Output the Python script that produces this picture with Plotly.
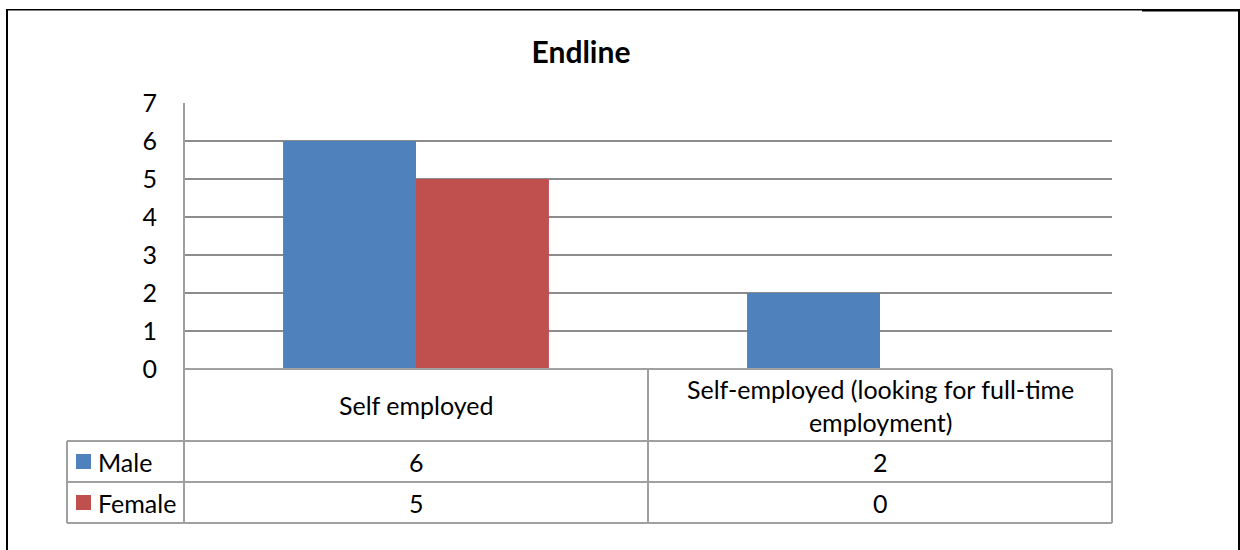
import plotly.graph_objects as go

# Chart data
title_text = "Endline"
categories = ["Self employed", "Self-employed (looking for full-time employment)"]
category_labels = ["Self employed", "Self-employed (looking for full-time<br>employment)"]
series_names = ["Male", "Female"]
male_values = [6, 2]
female_values = [5, 0]
y_tick_values = [0, 1, 2, 3, 4, 5, 6, 7]

series_values = [male_values, female_values]
series_colors = ["#4F81BD", "#C0504D"]

W, H = 1240, 550
FONT = "Lato"
TEXT_SIZE = 25


def fx(x):
    return x / W


def fy(y):
    return 1 - y / H


# Layout in pixels
PLOT_L, PLOT_R, PLOT_T, PLOT_B = 184, 1112, 103, 369
TABLE_L = 67
ROW_EDGES = [369, 441, 482, 523]
COL_SPLIT = 648

fig = go.Figure()
for name, vals, color in zip(series_names, series_values, series_colors):
    fig.add_trace(go.Bar(x=categories, y=vals, name=name, marker=dict(color=color, line=dict(width=0))))

grid_gray = "#8c8c8c"
table_gray = "#a0a0a0"

shapes = []
# data table / axis frame lines
line = dict(color=table_gray, width=2)
for yy in ROW_EDGES:
    x0 = PLOT_L if yy == ROW_EDGES[0] else TABLE_L
    shapes.append(dict(type="line", xref="paper", yref="paper", x0=fx(x0), x1=fx(PLOT_R),
                       y0=fy(yy), y1=fy(yy), line=line))
shapes.append(dict(type="line", xref="paper", yref="paper", x0=fx(PLOT_L), x1=fx(PLOT_L),
                   y0=fy(PLOT_T), y1=fy(ROW_EDGES[-1]), line=line))
shapes.append(dict(type="line", xref="paper", yref="paper", x0=fx(TABLE_L), x1=fx(TABLE_L),
                   y0=fy(ROW_EDGES[1]), y1=fy(ROW_EDGES[-1]), line=line))
for xx in (COL_SPLIT, PLOT_R):
    shapes.append(dict(type="line", xref="paper", yref="paper", x0=fx(xx), x1=fx(xx),
                       y0=fy(ROW_EDGES[0]), y1=fy(ROW_EDGES[-1]), line=line))

# legend keys in the data table
for i, color in enumerate(series_colors):
    yc = (ROW_EDGES[i + 1] + ROW_EDGES[i + 2]) / 2
    shapes.append(dict(type="rect", xref="paper", yref="paper", x0=fx(76), x1=fx(91),
                       y0=fy(yc + 7.5), y1=fy(yc - 7.5), fillcolor=color, line=dict(width=0)))

# outer frame
black = "#000000"
shapes.append(dict(type="line", xref="paper", yref="paper", x0=fx(7), x1=fx(7),
                   y0=fy(9), y1=fy(H), line=dict(color=black, width=2)))
shapes.append(dict(type="line", xref="paper", yref="paper", x0=fx(6), x1=fx(1142),
                   y0=fy(9.8), y1=fy(9.8), line=dict(color=black, width=1.5)))
shapes.append(dict(type="line", xref="paper", yref="paper", x0=fx(1142), x1=fx(W),
                   y0=fy(10.2), y1=fy(10.2), line=dict(color=black, width=2.5)))
shapes.append(dict(type="line", xref="paper", yref="paper", x0=fx(1239), x1=fx(1239),
                   y0=fy(9), y1=fy(H), line=dict(color=black, width=2)))

annotations = []
font = dict(family=FONT, size=TEXT_SIZE, color="#000000")
# category header row
for cat, lab in zip(categories, category_labels):
    annotations.append(dict(x=cat, y=fy((ROW_EDGES[0] + ROW_EDGES[1]) / 2), xref="x", yref="paper",
                            text=lab, showarrow=False, font=font, xanchor="center", yanchor="middle"))
# value rows
for i, (name, vals) in enumerate(zip(series_names, series_values)):
    yc = fy((ROW_EDGES[i + 1] + ROW_EDGES[i + 2]) / 2)
    annotations.append(dict(x=fx(96), y=yc, xref="paper", yref="paper", text=name, showarrow=False,
                            font=font, xanchor="left", yanchor="middle"))
    for cat, v in zip(categories, vals):
        annotations.append(dict(x=cat, y=yc, xref="x", yref="paper", text=str(v), showarrow=False,
                                font=font, xanchor="center", yanchor="middle"))

fig.update_layout(
    width=W, height=H,
    margin=dict(l=0, r=0, t=0, b=0, autoexpand=False),
    paper_bgcolor="white", plot_bgcolor="white",
    showlegend=False,
    barmode="group", bargap=0.427, bargroupgap=0,
    title=dict(text="<b>%s</b>" % title_text, x=fx(581), xanchor="center", y=fy(52), yanchor="middle",
               font=dict(family=FONT, size=30, color="#000000")),
    xaxis=dict(domain=[fx(PLOT_L), fx(PLOT_R)], showticklabels=False, showgrid=False,
               zeroline=False, showline=False, fixedrange=True, automargin=False),
    yaxis=dict(domain=[fy(PLOT_B), fy(PLOT_T)], range=[0, 7], tickvals=y_tick_values,
               showgrid=True, gridcolor=grid_gray, gridwidth=1.5, zeroline=False, showline=False,
               ticks="", ticklabelstandoff=26, tickfont=font, automargin=False),
    shapes=shapes,
    annotations=annotations,
)

fig.write_html("out.html")
